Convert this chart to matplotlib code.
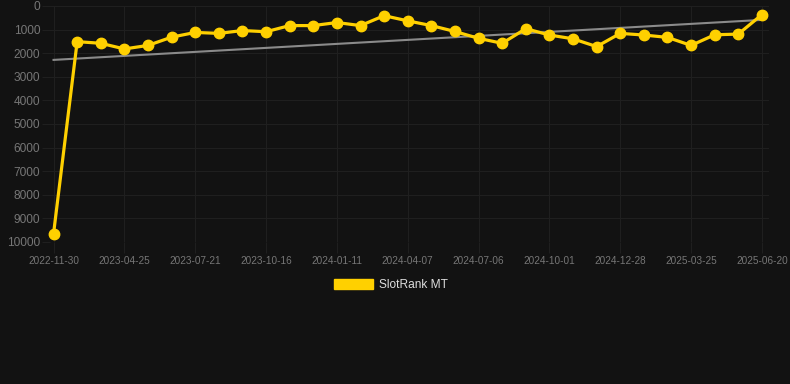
import numpy as np
import matplotlib
matplotlib.use("Agg")
import matplotlib.pyplot as plt
from matplotlib.patches import Patch

# rank values, one point per period (x axis is categorical)
rank = [9650, 1510, 1580, 1820, 1670, 1320, 1120, 1160, 1040, 1090,
        830, 830, 700, 830, 410, 630, 830, 1080, 1370, 1580,
        960, 1230, 1390, 1720, 1160, 1230, 1330, 1670, 1220, 1190, 365]
tick_labels = ["2022-11-30", "2023-04-25", "2023-07-21", "2023-10-16",
               "2024-01-11", "2024-04-07", "2024-07-06", "2024-10-01",
               "2024-12-28", "2025-03-25", "2025-06-20"]
series_name = "SlotRank MT"

bg = "#121212"
gold = "#FFD000"
gridc = "#1f1f1f"
plt.rcParams['font.family'] = ['Liberation Sans', 'DejaVu Sans']

fig = plt.figure(figsize=(7.9, 3.84), dpi=100, facecolor=bg)
ax = fig.add_axes([50/790, 1-242/384, (769-50)/790, (242-6)/384])
ax.set_facecolor(bg)

x = np.arange(len(rank))
# trend line (least squares)
k, b = np.polyfit(x, rank, 1)
ax.plot([x[0], x[-1]], [k*x[0]+b, k*x[-1]+b], color="#8a8a8a", lw=1.5, zorder=2)

ax.plot(x, rank, color=gold, lw=2.3, marker='o', ms=7.5, zorder=3, clip_on=False)

ax.set_ylim(10000, 0)
ax.set_xlim(-0.15, len(rank)-1+0.3)
ax.set_yticks(np.arange(0, 10001, 1000))
ax.set_xticks(x[::3])
ax.set_xticklabels(tick_labels)

ax.grid(True, color=gridc, lw=0.8)
ax.set_axisbelow(True)
for s in ax.spines.values():
    s.set_visible(False)
ax.tick_params(axis='y', color=gridc, labelsize=8.6, length=6, width=0.8, pad=1)
ax.tick_params(axis='x', color=gridc, labelsize=7.2, length=8, width=0.8, pad=2)
for t in ax.get_yticklabels() + ax.get_xticklabels():
    t.set_color("#767676")

leg = fig.legend(handles=[Patch(facecolor=gold, edgecolor=gold)], labels=[series_name],
                 loc='center', bbox_to_anchor=(391/790, 1-285/384), frameon=False,
                 fontsize=8.6, handlelength=3.3, handleheight=0.95, handletextpad=0.5)
for t in leg.get_texts():
    t.set_color("#dddddd")

fig.savefig("out.png", dpi=100, facecolor=bg)
